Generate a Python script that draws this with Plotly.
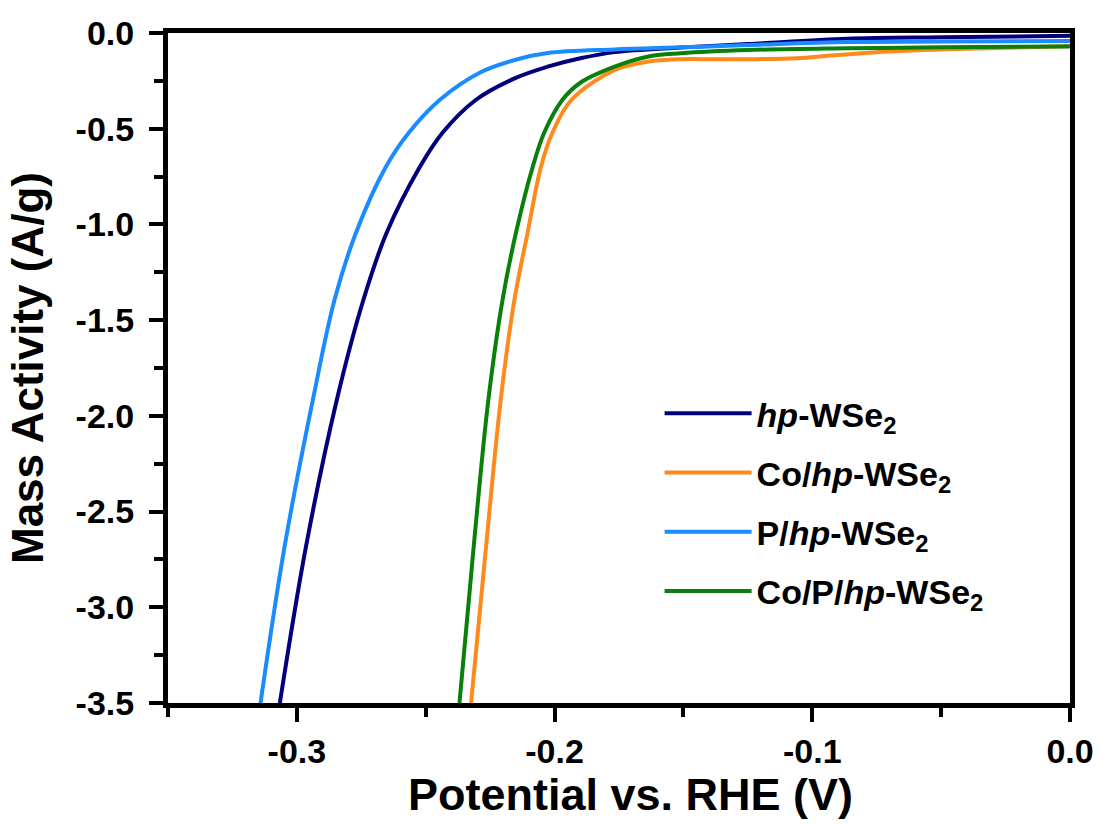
import plotly.graph_objects as go

# ---- data ----
hp_x = [-0.3066, -0.2965, -0.2845, -0.2742, -0.2652, -0.2523, -0.2434, -0.2306,
        -0.2155, -0.2027, -0.1900, -0.1767, -0.1510, -0.1250, -0.0864, -0.0500, 0.0]
hp_y = [-3.50, -2.686, -1.917, -1.395, -1.045, -0.700, -0.520, -0.350,
        -0.237, -0.176, -0.132, -0.100, -0.076, -0.058, -0.030, -0.022, -0.015]

co_x = [-0.2324, -0.2266, -0.2209, -0.2156, -0.2105, -0.2053, -0.2008, -0.1935,
        -0.1767, -0.1640, -0.1510, -0.1380, -0.1250, -0.1060, -0.0930, -0.0750,
        -0.0477, 0.0]
co_y = [-3.50, -2.686, -1.917, -1.395, -1.045, -0.700, -0.520, -0.350,
        -0.193, -0.150, -0.137, -0.137, -0.137, -0.132, -0.118, -0.100,
        -0.085, -0.068]

p_x = [-0.3141, -0.3048, -0.2938, -0.2854, -0.2771, -0.2655, -0.2565, -0.2446,
       -0.2287, -0.2155, -0.2027, -0.1767, -0.1510, -0.1250, -0.0864, -0.0500, 0.0]
p_y = [-3.50, -2.686, -1.917, -1.395, -1.045, -0.700, -0.520, -0.350,
       -0.205, -0.141, -0.105, -0.086, -0.075, -0.063, -0.047, -0.045, -0.042]

cop_x = [-0.2369, -0.2314, -0.2257, -0.2202, -0.2150, -0.2085, -0.2040, -0.1970,
         -0.1900, -0.1767, -0.1640, -0.1510, -0.1250, -0.0864, -0.0500, 0.0]
cop_y = [-3.50, -2.686, -1.917, -1.395, -1.045, -0.700, -0.520, -0.350,
         -0.260, -0.176, -0.124, -0.106, -0.089, -0.080, -0.075, -0.070]

names = ["<b><i>hp</i>-WSe<sub>2</sub></b>",
         "<b>Co/<i>hp</i>-WSe<sub>2</sub></b>",
         "<b>P/<i>hp</i>-WSe<sub>2</sub></b>",
         "<b>Co/P/<i>hp</i>-WSe<sub>2</sub></b>"]
colors = ["#00007F", "#FF8A1C", "#1A8CFF", "#0A800A"]

x_tickvals = [-0.3, -0.2, -0.1, 0.0]
x_ticktext = ["-0.3", "-0.2", "-0.1", "0.0"]
y_tickvals = [0.0, -0.5, -1.0, -1.5, -2.0, -2.5, -3.0, -3.5]
y_ticktext = ["0.0", "-0.5", "-1.0", "-1.5", "-2.0", "-2.5", "-3.0", "-3.5"]
x_title = "<b>Potential vs. RHE (V)</b>"
y_title = "<b>Mass Activity (A/g)</b>"

FONT = "Liberation Sans, Arial, sans-serif"

fig = go.Figure()
for i, (xs, ys) in enumerate([(hp_x, hp_y), (co_x, co_y), (p_x, p_y), (cop_x, cop_y)]):
    fig.add_trace(go.Scatter(x=xs, y=ys, mode="lines", name=names[i],
                             legendgroup="g%d" % i,
                             line=dict(color=colors[i], width=4, shape="spline", smoothing=1.0)))

axis_common = dict(
    showline=True, linewidth=5, linecolor="black", mirror=True,
    ticks="outside", ticklen=14, tickwidth=4, tickcolor="black",
    showgrid=False, zeroline=False,
    tickfont=dict(family=FONT, size=34, color="black", weight="bold"),
)

fig.update_xaxes(
    range=[-0.35, 0.0], tickvals=x_tickvals, ticktext=x_ticktext,
    minor=dict(tickvals=[-0.35, -0.25, -0.15, -0.05], ticks="outside", ticklen=9,
               tickwidth=4, tickcolor="black"),
    ticklabelstandoff=0,
    **axis_common,
)
fig.update_yaxes(
    range=[-3.5, 0.0], tickvals=y_tickvals, ticktext=y_ticktext,
    minor=dict(tickvals=[-0.25, -0.75, -1.25, -1.75, -2.25, -2.75, -3.25], ticks="outside",
               ticklen=9, tickwidth=4, tickcolor="black"),
    title=dict(text=y_title, font=dict(family=FONT, size=44, color="black"),
               standoff=20),
    ticklabelstandoff=8,
    **axis_common,
)

fig.add_annotation(text=x_title, xref="paper", yref="paper", x=0.513, y=-0.137,
                   xanchor="center", yanchor="middle", showarrow=False,
                   font=dict(family=FONT, size=45, color="black"))

fig.update_layout(
    width=1106, height=830,
    margin=dict(l=168, r=33, t=33, b=127),
    paper_bgcolor="white", plot_bgcolor="white",
    showlegend=True,
    legend=dict(x=0.545, y=0.475, xanchor="left", yanchor="top",
                font=dict(family=FONT, size=34, color="black"),
                bgcolor="rgba(0,0,0,0)", itemwidth=87, tracegroupgap=12,
                traceorder="grouped"),
)

fig.write_html("out.html")
